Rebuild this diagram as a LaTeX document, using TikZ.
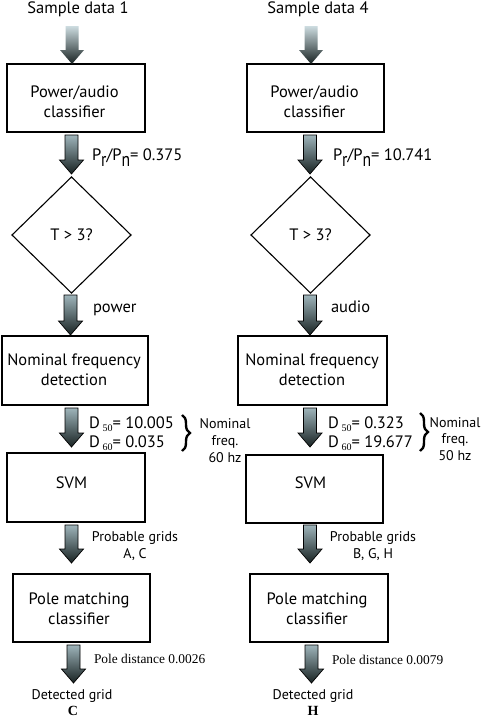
\documentclass[tikz,border=0pt]{standalone}
\usepackage{fontspec}
\setmainfont{PT Sans}
\newfontfamily\serifj{Liberation Serif}
\usetikzlibrary{shapes.geometric,decorations.pathreplacing,calc}
\definecolor{arrtop}{RGB}{158,180,186}
\definecolor{arrbot}{RGB}{24,34,34}
\definecolor{arrtopA}{RGB}{205,220,224}
\newcommand\lsub[1]{\raisebox{-6pt}{\scalebox{0.95}[1.2]{#1}}}
\newcommand\dsub[1]{\,\raisebox{-3pt}{\serifj\fontsize{10}{10}\selectfont #1}}
\newcommand\garr[3]{% style, top coord, tip coord
  \path[#1] let \p1=(#2), \p2=(#3) in
    (\x1-6.5pt,\y1) -- (\x1+6.5pt,\y1) -- (\x1+6.5pt,\y2+14pt) -- (\x1+12pt,\y2+14pt)
    -- (\x1,\y2) -- (\x1-12pt,\y2+14pt) -- (\x1-6.5pt,\y2+14pt) -- cycle;}
\begin{document}
\begin{tikzpicture}[x=1pt,y=-1pt,
  every node/.style={inner sep=0pt, outer sep=0pt},
  blk/.style={draw=black, line width=1.5pt, minimum height=68pt},
  dia/.style={diamond, draw=black, line width=1.1pt, minimum width=119pt, minimum height=116pt, font=\fontsize{16.5}{18}\selectfont},
  txt/.style={font=\fontsize{16.5}{20}\selectfont, align=center},
  sml/.style={font=\fontsize{14}{17}\selectfont, align=center},
  srf/.style={font=\serifj\fontsize{13.4}{15}\selectfont},
  bld/.style={font=\serifj\bfseries\fontsize{14}{15}\selectfont},
  garrow/.style={draw=black, line width=0.7pt, top color=arrtop, bottom color=arrbot},
  garrowA/.style={top color=arrtopA, bottom color=arrbot},
  brc/.style={decorate, decoration={brace, amplitude=8pt}, line width=2.4pt},
]
\fill[white] (0,0) rectangle (485,720);
\useasboundingbox (0,0) rectangle (485,720);

% ---------- left column ----------
\node[txt, anchor=base] (s1) at (78,13.5) {Sample data 1};
\node[blk, minimum width=138pt] (pa1) at (76,98) {};
\node[txt] (pa1t) at (74.5,101.5) {Power/audio\\classifier};
\node[txt, anchor=base west] (r1) at (92,160) {P\lsub{r}/P\lsub{n}= 0.375};
\node[dia] (th1) at (71.5,235) {T > 3?};
\node[txt, anchor=base west] (pw1) at (93,312) {power};
\node[blk, minimum width=146pt, minimum height=69pt] (nf1) at (75,370.5) {};
\node[txt] (nf1t) at (74,369.5) {Nominal frequency\\detection};
\node[txt, anchor=base west] (d51) at (89,428) {D\dsub{50}= 10.005};
\node[txt, anchor=base west] (d61) at (89,447) {D\dsub{60}= 0.035};
\draw[brc] (182,415) -- (182,451);
\node[sml, anchor=base] (nm1a) at (225,428) {Nominal};
\node[sml, anchor=base] (nm1b) at (225,445) {freq.};
\node[sml, anchor=base] (nm1c) at (225,462) {60 hz};
\node[blk, minimum width=138pt, minimum height=69pt] (svm1) at (76,487.5) {};
\node[txt, anchor=base] (svm1t) at (71.5,488) {SVM};
\node[sml, anchor=base] (pg1a) at (135,541) {Probable grids};
\node[sml, anchor=base] (pg1b) at (135,558) {A, C};
\node[blk, minimum width=137pt] (pm1) at (81.5,608) {};
\node[txt] (pm1t) at (79,609) {Pole matching\\classifier};
\node[srf, anchor=base west] (pd1) at (94,663) {Pole distance 0.0026};
\node[sml, anchor=base] (dg1) at (72,699) {Detected grid};
\node[bld, anchor=base] (g1) at (73,715) {C};

% ---------- right column ----------
\node[txt, anchor=base] (s4) at (318,13.5) {Sample data 4};
\node[blk, minimum width=137pt] (pa4) at (315.5,98) {};
\node[txt] (pa4t) at (314.5,101.5) {Power/audio\\classifier};
\node[txt, anchor=base west] (r4) at (333,160) {P\lsub{r}/P\lsub{n}= 10.741};
\node[dia] (th4) at (310.5,235) {T > 3?};
\node[txt, anchor=base west] (au4) at (331,312) {audio};
\node[blk, minimum width=149pt, minimum height=69pt] (nf4) at (312.5,370.5) {};
\node[txt] (nf4t) at (312,369.5) {Nominal frequency\\detection};
\node[txt, anchor=base west] (d54) at (328,428) {D\dsub{50}= 0.323};
\node[txt, anchor=base west] (d64) at (328,447) {D\dsub{60}= 19.677};
\draw[brc] (420,413) -- (420,451);
\node[sml, anchor=base] (nm4a) at (455,427) {Nominal};
\node[sml, anchor=base] (nm4b) at (455,443) {freq.};
\node[sml, anchor=base] (nm4c) at (455,460) {50 hz};
\node[blk, minimum width=137pt] (svm4) at (314.5,489) {};
\node[txt, anchor=base] (svm4t) at (310.5,488) {SVM};
\node[sml, anchor=base] (pg4a) at (373,541) {Probable grids};
\node[sml, anchor=base] (pg4b) at (373,558) {B, G, H};
\node[blk, minimum width=138pt] (pm4) at (319,608) {};
\node[txt] (pm4t) at (317,609) {Pole matching\\classifier};
\node[srf, anchor=base west] (pd4) at (332,664) {Pole distance 0.0079};
\node[sml, anchor=base] (dg4) at (313,699) {Detected grid};
\node[bld, anchor=base] (g4) at (313,715) {H};

% ---------- arrow end points ----------
\coordinate (a1Lt) at (72,26);    \coordinate (a1Lb) at (72,64);
\coordinate (a2Lt) at (71.5,135); \coordinate (a2Lb) at (71.5,174);
\coordinate (a3Lt) at (70.5,295); \coordinate (a3Lb) at (70.5,335);
\coordinate (a4Lt) at (71.5,408); \coordinate (a4Lb) at (71.5,447);
\coordinate (a5Lt) at (71.5,525); \coordinate (a5Lb) at (71.5,563);
\coordinate (a6Lt) at (73.5,645); \coordinate (a6Lb) at (73.5,683);
\coordinate (a1Rt) at (311,26);   \coordinate (a1Rb) at (311,64);
\coordinate (a2Rt) at (310,135);  \coordinate (a2Rb) at (310,174);
\coordinate (a3Rt) at (310,295);  \coordinate (a3Rb) at (310,335);
\coordinate (a4Rt) at (310,408);  \coordinate (a4Rb) at (310,447);
\coordinate (a5Rt) at (310,525);  \coordinate (a5Rb) at (310,563);
\coordinate (a6Rt) at (311.5,645);\coordinate (a6Rb) at (311.5,683);

\garr{garrowA}{a1Lt}{a1Lb}
\garr{garrow}{a2Lt}{a2Lb}
\garr{garrow}{a3Lt}{a3Lb}
\garr{garrow}{a4Lt}{a4Lb}
\garr{garrow}{a5Lt}{a5Lb}
\garr{garrow}{a6Lt}{a6Lb}
\garr{garrowA}{a1Rt}{a1Rb}
\garr{garrow}{a2Rt}{a2Rb}
\garr{garrow}{a3Rt}{a3Rb}
\garr{garrow}{a4Rt}{a4Rb}
\garr{garrow}{a5Rt}{a5Rb}
\garr{garrow}{a6Rt}{a6Rb}
\end{tikzpicture}
\end{document}
